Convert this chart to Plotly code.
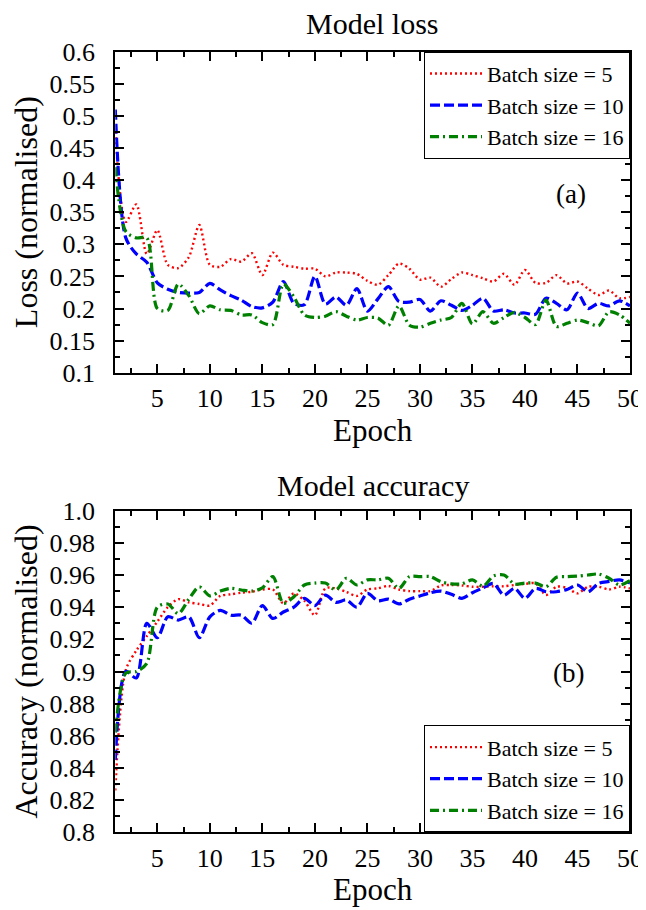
import plotly.graph_objects as go

epochs = list(range(1, 51))

loss_bs5 = [0.475, 0.335, 0.362, 0.285, 0.322, 0.268, 0.263, 0.28, 0.33, 0.268,
            0.265, 0.277, 0.273, 0.286, 0.252, 0.287, 0.268, 0.265, 0.262, 0.262,
            0.25, 0.256, 0.256, 0.254, 0.243, 0.237, 0.252, 0.27, 0.262, 0.245,
            0.248, 0.234, 0.246, 0.256, 0.252, 0.247, 0.242, 0.254, 0.237, 0.26,
            0.24, 0.24, 0.252, 0.239, 0.242, 0.231, 0.221, 0.228, 0.216, 0.218]
loss_bs10 = [0.51, 0.31, 0.285, 0.272, 0.24, 0.23, 0.225, 0.224, 0.225, 0.239,
             0.229, 0.22, 0.213, 0.203, 0.201, 0.21, 0.242, 0.208, 0.206, 0.25,
             0.207, 0.218, 0.205, 0.231, 0.196, 0.215, 0.234, 0.211, 0.21, 0.214,
             0.196, 0.212, 0.205, 0.197, 0.205, 0.216, 0.196, 0.198, 0.193, 0.193,
             0.191, 0.216, 0.208, 0.198, 0.224, 0.2, 0.208, 0.204, 0.212, 0.204]
loss_bs16 = [0.42, 0.32, 0.31, 0.31, 0.2, 0.197, 0.238, 0.22, 0.192, 0.204,
             0.198, 0.197, 0.19, 0.19, 0.178, 0.175, 0.238, 0.218, 0.19, 0.186,
             0.188, 0.195, 0.188, 0.182, 0.186, 0.185, 0.174, 0.204, 0.174, 0.171,
             0.177, 0.182, 0.186, 0.208, 0.176, 0.195, 0.177, 0.186, 0.194, 0.186,
             0.175, 0.213, 0.172, 0.177, 0.182, 0.178, 0.173, 0.195, 0.19, 0.177]

acc_bs5 = [0.826, 0.901, 0.913, 0.922, 0.931, 0.94, 0.945, 0.943, 0.942, 0.941,
           0.947, 0.948, 0.949, 0.9496, 0.951, 0.951, 0.9424, 0.9486, 0.944, 0.935,
           0.9517, 0.9517, 0.9495, 0.947, 0.951, 0.9517, 0.9532, 0.951, 0.95, 0.95,
           0.95, 0.9535, 0.9538, 0.9535, 0.9527, 0.9527, 0.953, 0.953, 0.9538, 0.9545,
           0.9548, 0.9476, 0.9527, 0.952, 0.9486, 0.9527, 0.9527, 0.951, 0.9527, 0.9517]
acc_bs10 = [0.845, 0.9, 0.896, 0.93, 0.921, 0.934, 0.932, 0.934, 0.921, 0.934,
            0.938, 0.935, 0.935, 0.93, 0.941, 0.933, 0.937, 0.94, 0.9455, 0.941,
            0.9475, 0.943, 0.9445, 0.94, 0.9486, 0.944, 0.945, 0.942, 0.945, 0.947,
            0.949, 0.95, 0.948, 0.9455, 0.949, 0.952, 0.9548, 0.9475, 0.9517, 0.9455,
            0.9517, 0.9496, 0.9496, 0.951, 0.9538, 0.9496, 0.9548, 0.956, 0.957, 0.955]
acc_bs16 = [0.862, 0.899, 0.9, 0.905, 0.94, 0.942, 0.936, 0.945, 0.9527, 0.947,
            0.95, 0.9517, 0.9507, 0.95, 0.952, 0.959, 0.9424, 0.9465, 0.9538, 0.955,
            0.955, 0.9507, 0.958, 0.9538, 0.957, 0.957, 0.958, 0.9517, 0.959, 0.959,
            0.959, 0.9558, 0.9545, 0.9545, 0.957, 0.953, 0.9594, 0.96, 0.9544, 0.955,
            0.955, 0.9527, 0.9586, 0.959, 0.9593, 0.96, 0.9606, 0.958, 0.9538, 0.9565]

series_names = ["Batch size = 5", "Batch size = 10", "Batch size = 16"]
x_ticks = [5, 10, 15, 20, 25, 30, 35, 40, 45, 50]
x_minor = [2.5, 7.5, 12.5, 17.5, 22.5, 27.5, 32.5, 37.5, 42.5, 47.5]
loss_ticks = [0.1, 0.15, 0.2, 0.25, 0.3, 0.35, 0.4, 0.45, 0.5, 0.55, 0.6]
loss_ticktext = ["0.1", "0.15", "0.2", "0.25", "0.3", "0.35", "0.4", "0.45", "0.5", "0.55", "0.6"]
loss_minor = [0.125, 0.175, 0.225, 0.275, 0.325, 0.375, 0.425, 0.475, 0.525, 0.575]
acc_ticks = [0.8, 0.82, 0.84, 0.86, 0.88, 0.9, 0.92, 0.94, 0.96, 0.98, 1.0]
acc_ticktext = ["0.8", "0.82", "0.84", "0.86", "0.88", "0.9", "0.92", "0.94", "0.96", "0.98", "1.0"]
acc_minor = [0.81, 0.83, 0.85, 0.87, 0.89, 0.91, 0.93, 0.95, 0.97, 0.99]

FONT = "Liberation Serif"
styles = [
    dict(color="#ff0000", width=2.4, dash="2px,3px"),
    dict(color="#0000ff", width=3.2, dash="10px,4px"),
    dict(color="#008000", width=3.2, dash="9px,4px,2px,4px"),
]

# the page body has an 8px margin: figure is drawn from (8, 8)
OFF = 8
W, H = 646 - OFF, 910 - OFF

def xp(px):
    return (px - OFF) / W

def yp(py):
    return 1 - (py - OFF) / H

fig = go.Figure()
for name, ys, st in zip(series_names, [loss_bs5, loss_bs10, loss_bs16], styles):
    fig.add_trace(go.Scatter(x=epochs, y=ys, mode="lines", name=name,
                             line=dict(shape="spline", smoothing=0.8, **st),
                             xaxis="x", yaxis="y", legend="legend"))
for name, ys, st in zip(series_names, [acc_bs5, acc_bs10, acc_bs16], styles):
    fig.add_trace(go.Scatter(x=epochs, y=ys, mode="lines", name=name,
                             line=dict(shape="spline", smoothing=0.8, **st),
                             xaxis="x2", yaxis="y2", legend="legend2"))

xdom = [xp(115.3), xp(630)]
ydom1 = [yp(372.7), yp(51.7)]
ydom2 = [yp(832.3), yp(510.7)]

def xaxis(anchor):
    return dict(domain=xdom, anchor=anchor, range=[1, 50], automargin=False,
                tickvals=x_ticks, ticks="inside", ticklen=9, tickwidth=1.5,
                tickcolor="black", showline=True, linewidth=2, linecolor="black",
                mirror="allticks", showgrid=False, zeroline=False,
                minor=dict(tickvals=x_minor, ticks="inside", ticklen=5, tickwidth=1.5,
                           tickcolor="black", showgrid=False),
                tickfont=dict(family=FONT, size=26, color="black"),
                title=dict(text="Epoch", font=dict(family=FONT, size=31, color="black"),
                           standoff=5),
                ticklabelstandoff=1)

def yaxis(anchor, dom, rng, tv, tt, minor_vals, title):
    return dict(domain=dom, anchor=anchor, range=rng, tickvals=tv, ticktext=tt,
                automargin=False,
                ticks="inside", ticklen=9, tickwidth=1.5, tickcolor="black",
                showline=True, linewidth=2, linecolor="black", mirror="allticks",
                showgrid=False, zeroline=False,
                minor=dict(tickvals=minor_vals, ticks="inside", ticklen=5, tickwidth=1.5,
                           tickcolor="black", showgrid=False),
                tickfont=dict(family=FONT, size=26, color="black"),
                title=dict(text=title, font=dict(family=FONT, size=32, color="black"),
                           standoff=9),
                ticklabelstandoff=13)

legend_common = dict(bgcolor="white", bordercolor="black", borderwidth=1,
                     font=dict(family=FONT, size=22, color="black"),
                     xanchor="right", x=xdom[1], tracegroupgap=0, itemwidth=52)

fig.update_layout(
    template="none",
    width=W, height=H,
    margin=dict(l=0, r=0, t=0, b=0),
    paper_bgcolor="white", plot_bgcolor="white",
    xaxis=xaxis("y"),
    xaxis2=xaxis("y2"),
    yaxis=yaxis("x", ydom1, [0.1, 0.6], loss_ticks, loss_ticktext, loss_minor,
                "Loss (normalised)"),
    yaxis2=yaxis("x2", ydom2, [0.8, 1.0], acc_ticks, acc_ticktext, acc_minor,
                 "Accuracy (normalised)"),
    legend=dict(yanchor="top", y=ydom1[1], **legend_common),
    legend2=dict(yanchor="bottom", y=ydom2[0], **legend_common),
    annotations=[
        dict(text="Model loss", x=(xdom[0] + xdom[1]) / 2, y=yp(24),
             xref="paper", yref="paper", showarrow=False, yanchor="middle",
             borderpad=0, font=dict(family=FONT, size=30, color="black")),
        dict(text="Model accuracy", x=(xdom[0] + xdom[1]) / 2, y=yp(485),
             xref="paper", yref="paper", showarrow=False, yanchor="middle",
             borderpad=0, font=dict(family=FONT, size=30, color="black")),
        dict(text="(a)", x=xp(588), y=yp(177), xref="paper", yref="paper",
             showarrow=False, font=dict(family=FONT, size=27, color="black")),
        dict(text="(b)", x=xp(586), y=yp(690), xref="paper", yref="paper",
             showarrow=False, font=dict(family=FONT, size=27, color="black")),
    ],
)

fig.write_html("out.html")
